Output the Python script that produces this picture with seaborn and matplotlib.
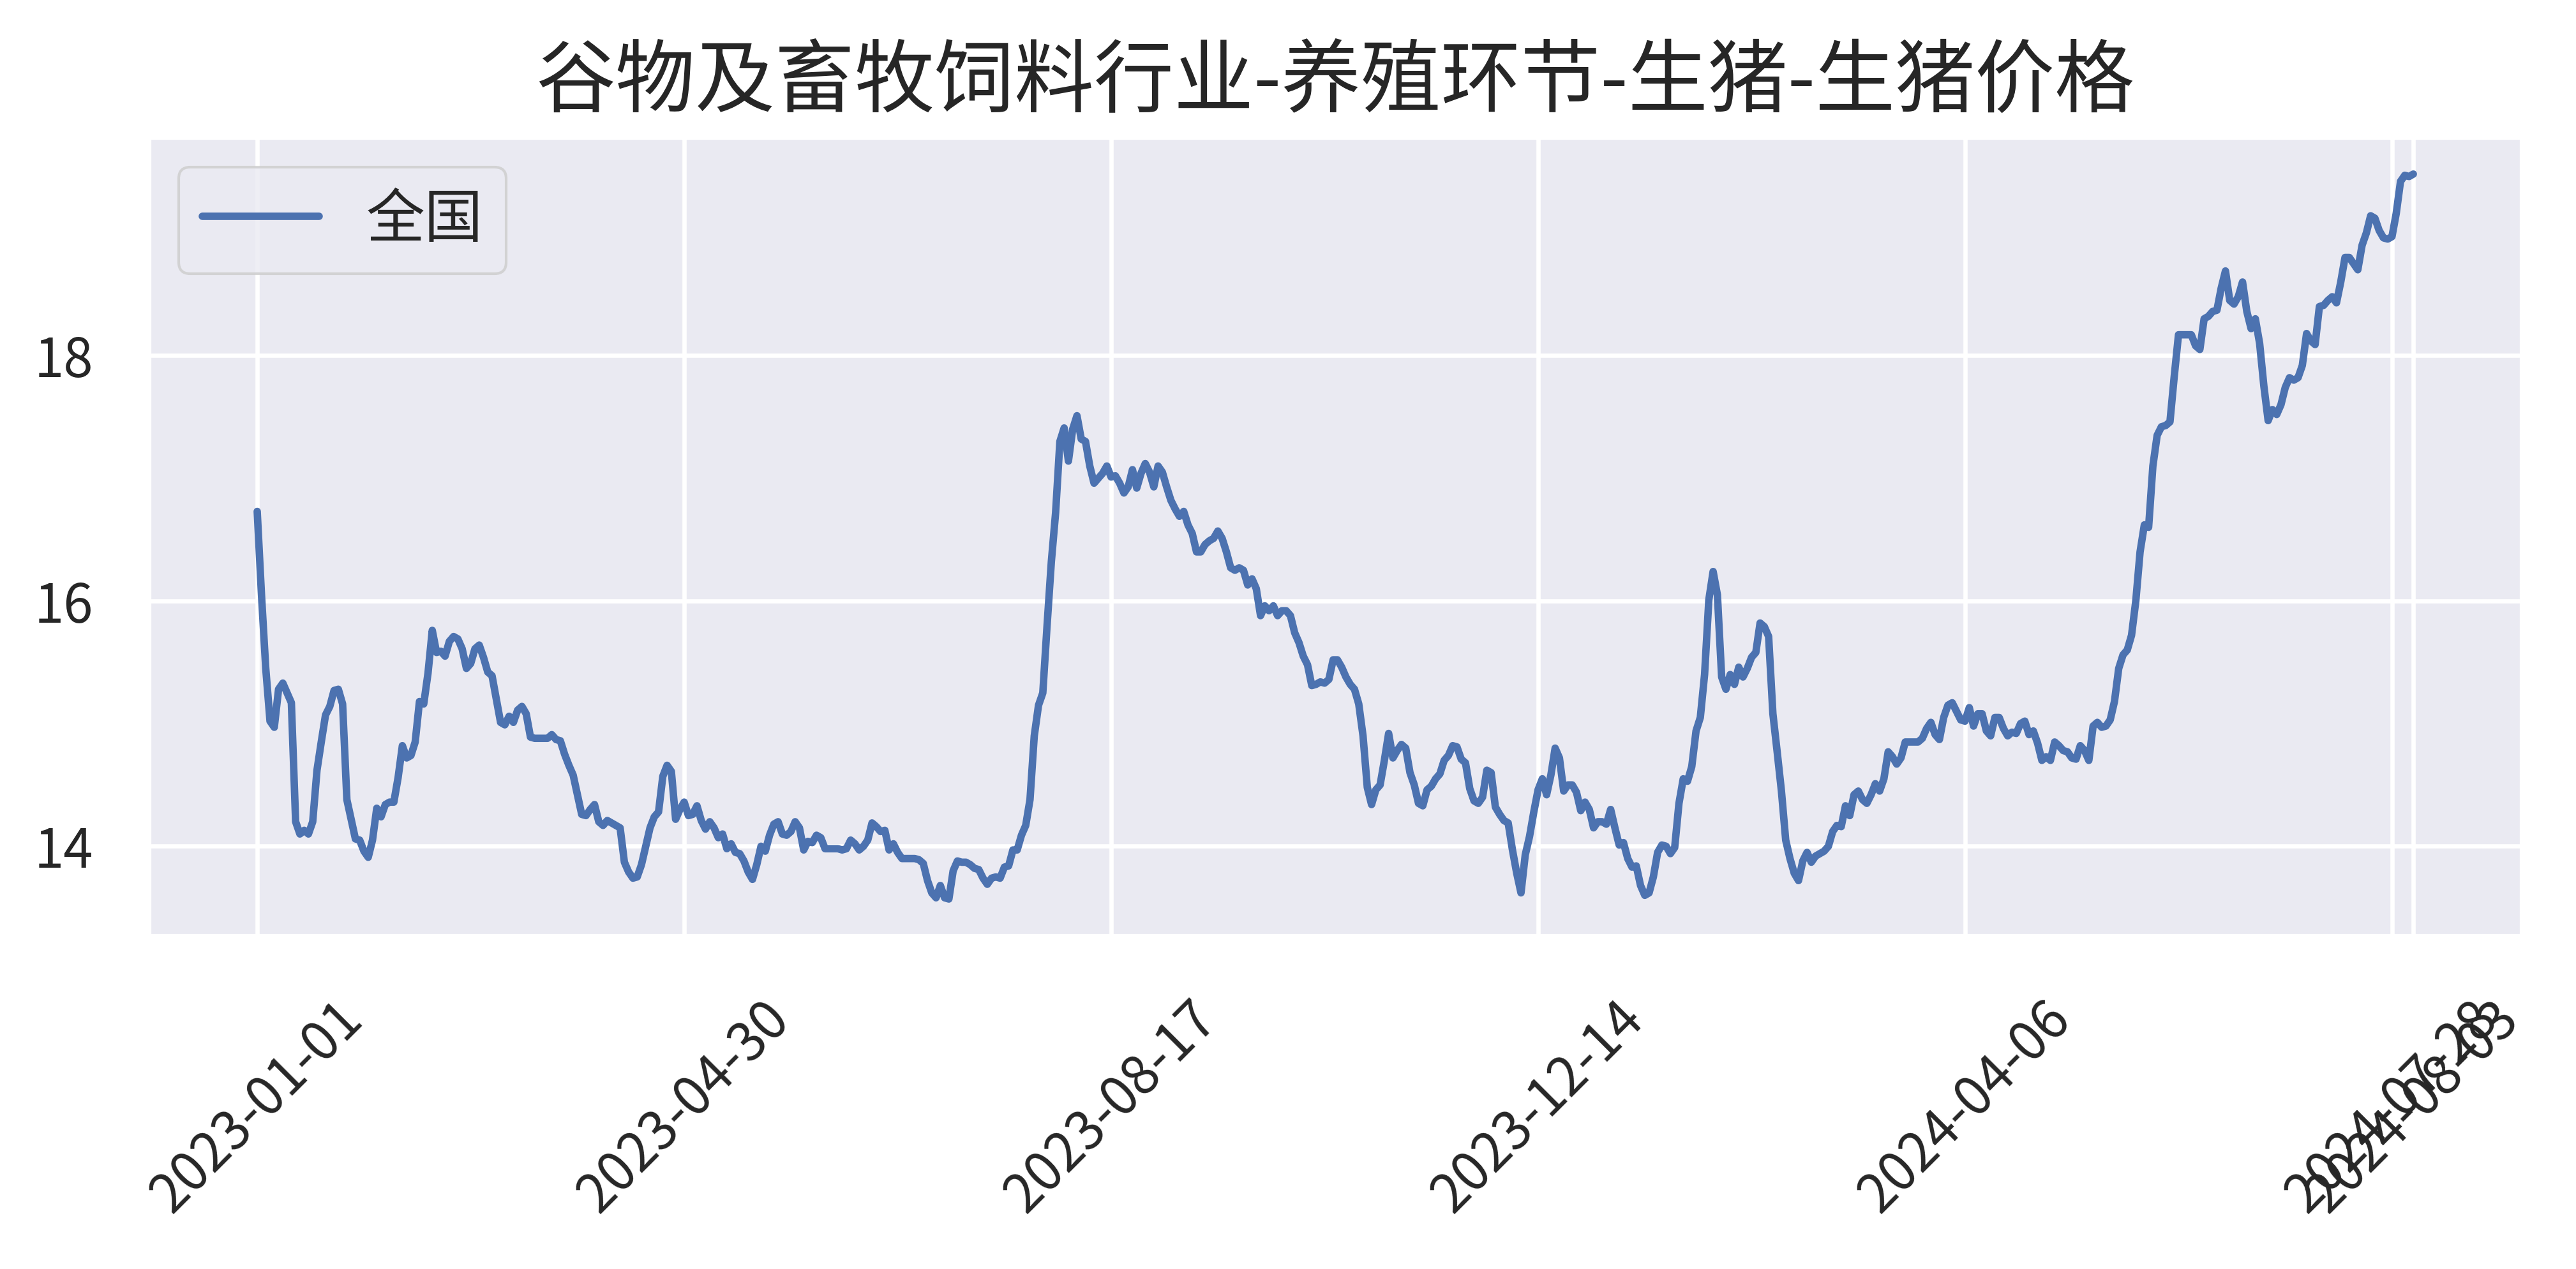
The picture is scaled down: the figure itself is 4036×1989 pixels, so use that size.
import numpy as np
import pandas as pd
import seaborn as sns
import matplotlib.pyplot as plt

sns.set_theme(style="darkgrid")
plt.rcParams["font.family"] = ["Noto Sans CJK SC", "DejaVu Sans"]
plt.rcParams["axes.unicode_minus"] = False

title = "谷物及畜牧饲料行业-养殖环节-生猪-生猪价格"
series_name = "全国"

# labels shown under every 100th observation, plus the last one
tick_dates = ["2023-01-01", "2023-04-30", "2023-08-17", "2023-12-14",
              "2024-04-06", "2024-07-28", "2024-08-03"]
y_ticks = [14, 16, 18]

price = [
    16.73, 16.05, 15.45, 15.02, 14.97, 15.28, 15.33, 15.25, 15.17, 14.20,
    14.10, 14.13, 14.10, 14.20, 14.62, 14.85, 15.07, 15.14, 15.27, 15.28,
    15.16, 14.38, 14.22, 14.06, 14.05, 13.96, 13.91, 14.05, 14.31, 14.24,
    14.34, 14.36, 14.36, 14.56, 14.82, 14.72, 14.74, 14.85, 15.18, 15.16,
    15.41, 15.76, 15.58, 15.59, 15.55, 15.67, 15.71, 15.69, 15.61, 15.45,
    15.49, 15.61, 15.64, 15.54, 15.42, 15.39, 15.20, 15.01, 14.99, 15.06,
    15.01, 15.11, 15.14, 15.08, 14.89, 14.88, 14.88, 14.88, 14.88, 14.91,
    14.87, 14.86, 14.75, 14.66, 14.58, 14.42, 14.26, 14.25, 14.30, 14.34,
    14.20, 14.17, 14.21, 14.19, 14.17, 14.15, 13.87, 13.79, 13.74, 13.75,
    13.85, 14.00, 14.15, 14.24, 14.28, 14.57, 14.66, 14.61, 14.22, 14.30,
    14.36, 14.25, 14.26, 14.33, 14.21, 14.14, 14.20, 14.15, 14.07, 14.10,
    13.98, 14.02, 13.95, 13.94, 13.88, 13.79, 13.73, 13.85, 14.00, 13.96,
    14.09, 14.18, 14.20, 14.10, 14.09, 14.12, 14.20, 14.15, 13.97, 14.04,
    14.03, 14.09, 14.07, 13.98, 13.98, 13.98, 13.98, 13.97, 13.98, 14.05,
    14.02, 13.97, 14.00, 14.05, 14.19, 14.16, 14.12, 14.13, 13.97, 14.02,
    13.95, 13.90, 13.90, 13.90, 13.90, 13.89, 13.86, 13.72, 13.62, 13.58,
    13.68, 13.58, 13.57, 13.80, 13.88, 13.87, 13.87, 13.85, 13.82, 13.81,
    13.74, 13.69, 13.74, 13.75, 13.74, 13.83, 13.84, 13.97, 13.97, 14.09,
    14.17, 14.38, 14.90, 15.15, 15.25, 15.80, 16.32, 16.72, 17.30, 17.41,
    17.14, 17.40, 17.51, 17.32, 17.30, 17.10, 16.96, 17.00, 17.04, 17.10,
    17.01, 17.02, 16.96, 16.88, 16.93, 17.07, 16.92, 17.04, 17.12, 17.05,
    16.93, 17.10, 17.05, 16.93, 16.82, 16.75, 16.69, 16.73, 16.62, 16.55,
    16.40, 16.40, 16.46, 16.49, 16.51, 16.57, 16.51, 16.40, 16.27, 16.25,
    16.27, 16.25, 16.13, 16.18, 16.10, 15.88, 15.96, 15.92, 15.96, 15.88,
    15.92, 15.92, 15.88, 15.74, 15.66, 15.55, 15.48, 15.31, 15.32, 15.34,
    15.33, 15.36, 15.52, 15.52, 15.46, 15.38, 15.32, 15.28, 15.16, 14.90,
    14.48, 14.34, 14.46, 14.50, 14.70, 14.92, 14.72, 14.78, 14.83, 14.80,
    14.60, 14.50, 14.35, 14.33, 14.46, 14.49, 14.55, 14.59, 14.70, 14.74,
    14.82, 14.81, 14.71, 14.68, 14.47, 14.37, 14.35, 14.40, 14.62, 14.60,
    14.32, 14.26, 14.21, 14.19, 13.97, 13.78, 13.62, 13.93, 14.08, 14.28,
    14.46, 14.55, 14.42, 14.58, 14.80, 14.72, 14.45, 14.50, 14.50, 14.44,
    14.29, 14.36, 14.30, 14.15, 14.20, 14.20, 14.18, 14.30, 14.15, 14.01,
    14.03, 13.90, 13.83, 13.84, 13.68, 13.60, 13.62, 13.75, 13.95, 14.01,
    14.00, 13.94, 13.99, 14.35, 14.55, 14.53, 14.65, 14.94, 15.05, 15.40,
    16.01, 16.24, 16.05, 15.38, 15.28, 15.40, 15.32, 15.46, 15.38, 15.45,
    15.54, 15.58, 15.82, 15.79, 15.71, 15.08, 14.77, 14.45, 14.05, 13.90,
    13.78, 13.72, 13.88, 13.95, 13.87, 13.92, 13.94, 13.96, 14.00, 14.12,
    14.17, 14.16, 14.33, 14.25, 14.42, 14.45, 14.38, 14.35, 14.42, 14.51,
    14.45, 14.55, 14.77, 14.73, 14.67, 14.72, 14.85, 14.85, 14.85, 14.85,
    14.88, 14.96, 15.01, 14.91, 14.87, 15.05, 15.15, 15.17, 15.10, 15.03,
    15.02, 15.13, 14.98, 15.08, 15.08, 14.94, 14.90, 15.05, 15.05, 14.96,
    14.90, 14.93, 14.92, 15.00, 15.02, 14.91, 14.94, 14.84, 14.70, 14.73,
    14.70, 14.85, 14.82, 14.78, 14.77, 14.72, 14.71, 14.82, 14.78, 14.70,
    14.98, 15.01, 14.97, 14.98, 15.03, 15.18, 15.45, 15.56, 15.60, 15.72,
    16.00, 16.40, 16.62, 16.60, 17.10, 17.35, 17.42, 17.43, 17.46, 17.83,
    18.17, 18.17, 18.17, 18.17, 18.08, 18.05, 18.30, 18.32, 18.36, 18.37,
    18.55, 18.69, 18.45, 18.42, 18.48, 18.60, 18.36, 18.22, 18.30, 18.10,
    17.75, 17.47, 17.56, 17.52, 17.60, 17.74, 17.82, 17.80, 17.82, 17.92,
    18.18, 18.12, 18.09, 18.40, 18.41, 18.45, 18.48, 18.43, 18.60, 18.80,
    18.80, 18.75, 18.70, 18.90, 19.00, 19.14, 19.12, 19.02, 18.96, 18.95,
    18.97, 19.16, 19.42, 19.47, 19.46, 19.48,
]

df = pd.DataFrame({"obs": np.arange(len(price)), series_name: price})

fig, ax = plt.subplots(figsize=(4036 / 300, 1989 / 300), dpi=300)
fig.subplots_adjust(left=0.058, right=0.9787, bottom=0.263, top=0.8914)

line_ax = sns.lineplot(data=df, x="obs", y=series_name, label=series_name,
                       color="#4c72b0", ax=ax)
for ln in line_ax.get_lines():
    ln.set_linewidth(2.8)

ticks = list(range(0, len(price), 100)) + [len(price) - 1]
ax.set_xticks(ticks)
ax.set_xticklabels(tick_dates, rotation=45)
ax.set_yticks(y_ticks)
ax.set_xlabel("")
ax.set_ylabel("")
ax.tick_params(labelsize=20, length=0, pad=21, colors=".15")
ax.grid(True, color="white", linewidth=1.6)

ax.set_title(title, fontsize=30, pad=12)
leg = ax.legend(loc="upper left", fontsize=22, handlelength=2.0)
for h in leg.get_lines():
    h.set_linewidth(2.8)

fig.savefig("out.png", dpi=300)
